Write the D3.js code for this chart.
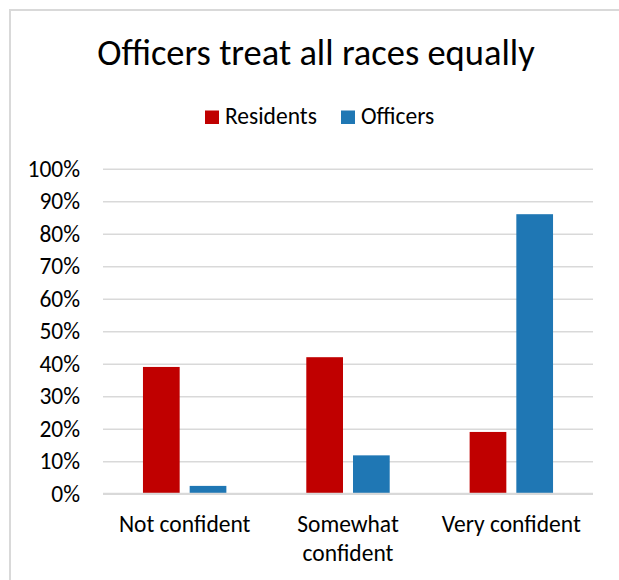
<!DOCTYPE html>
<html>
<head>
<meta charset="utf-8">
<script src="https://cdn.jsdelivr.net/npm/d3@7"></script>
<style>
  html, body { margin: 0; padding: 0; background: #fff; }
  svg { display: block; }
  text { font-family: Carlito, Calibri, Lato, "Open Sans", sans-serif; fill: #000; }
</style>
</head>
<body>
<svg id="chart" width="619" height="580"></svg>
<script>
const title = "Officers treat all races equally";
const categories = [["Not confident"], ["Somewhat", "confident"], ["Very confident"]];
const seriesNames = ["Residents", "Officers"];
const seriesColors = ["#c00000", "#1f77b4"];
const residents = [0.39, 0.42, 0.19];
const officers = [0.024, 0.118, 0.86];
const yTicks = [0, 0.1, 0.2, 0.3, 0.4, 0.5, 0.6, 0.7, 0.8, 0.9, 1.0];

const series = [residents, officers];
const svg = d3.select("#chart");
const fs = 23.5;

// frame
svg.append("path")
  .attr("d", "M10,580 L10,10 L619,10")
  .attr("fill", "none").attr("stroke", "#d9d9d9").attr("stroke-width", 2);

const plotL = 103, plotR = 593, plotT = 168.7, plotB = 493.7;
const x = d3.scaleBand().domain(d3.range(categories.length)).range([plotL, plotR]).paddingInner(0).paddingOuter(0);
const y = d3.scaleLinear().domain([0, 1]).range([plotB, plotT]);
const barW = 36.7, gap = 10;

// gridlines
const yAxis = d3.axisLeft(y).tickValues(yTicks).tickFormat(d3.format(".0%")).tickSize(-(plotR - plotL)).tickPadding(23);
const gy = svg.append("g").attr("transform", `translate(${plotL},0)`).call(yAxis);
gy.select(".domain").remove();
gy.selectAll(".tick line").attr("stroke", "#d9d9d9").attr("stroke-width", 1.5);
gy.selectAll(".tick text").attr("font-size", fs).attr("fill", "#000")
  .style("font-family", "Carlito, Calibri, Lato, sans-serif");

// bars
series.forEach((vals, si) => {
  svg.append("g").selectAll("rect").data(vals).enter().append("rect")
    .attr("x", (d, i) => x(i) + x.bandwidth() / 2 - barW - gap / 2 + si * (barW + gap))
    .attr("width", barW)
    .attr("y", d => y(d))
    .attr("height", d => y(0) - y(d))
    .attr("fill", seriesColors[si]);
});

// axis baseline
svg.append("line").attr("x1", plotL).attr("x2", plotR).attr("y1", y(0)).attr("y2", y(0))
  .attr("stroke", "#d9d9d9").attr("stroke-width", 2);

// x labels
categories.forEach((lines, i) => {
  const t = svg.append("text").attr("text-anchor", "middle").attr("font-size", fs)
    .attr("x", x(i) + x.bandwidth() / 2).attr("y", 531.5);
  lines.forEach((ln, j) => {
    t.append("tspan").attr("x", x(i) + x.bandwidth() / 2).attr("dy", j === 0 ? 0 : 29).text(ln);
  });
});

// title
svg.append("text").attr("x", 316).attr("y", 65).attr("text-anchor", "middle")
  .attr("font-size", 36.5).text(title);

// legend
const legX = [205, 341];
seriesNames.forEach((n, i) => {
  svg.append("rect").attr("x", legX[i]).attr("y", 110.5).attr("width", 14).attr("height", 13.5).attr("fill", seriesColors[i]);
  svg.append("text").attr("x", legX[i] + 20).attr("y", 124).attr("font-size", fs).text(n);
});
</script>
</body>
</html>
